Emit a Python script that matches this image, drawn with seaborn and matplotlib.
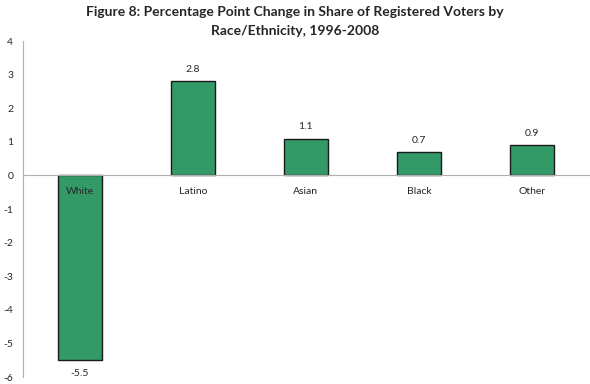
import matplotlib
matplotlib.use("Agg")
import matplotlib.pyplot as plt
import seaborn as sns
import pandas as pd

categories = ["White", "Latino", "Asian", "Black", "Other"]
values = [-5.5, 2.8, 1.1, 0.7, 0.9]
value_labels = ["-5.5", "2.8", "1.1", "0.7", "0.9"]
yticks = [-6, -5, -4, -3, -2, -1, 0, 1, 2, 3, 4]

sns.set_style("white")
plt.rcParams["font.family"] = ["Lato", "DejaVu Sans"]

df = pd.DataFrame({"cat": categories, "val": values})

fig = plt.figure(figsize=(5.9, 3.84), dpi=100)
ax = fig.add_axes([0.039, 0.018, 0.959, 0.875])
sns.barplot(data=df, x="cat", y="val", color="#339966", saturation=1,
            width=0.39, edgecolor="#1a1a1a", linewidth=1.0, ax=ax)

ax.set_ylim(-6, 4)
ax.set_xlim(-0.5, 4.5)
ax.set_yticks(yticks)
ax.set_yticklabels([str(t) for t in yticks], fontsize=7.5)
ax.set_xlabel("")
ax.set_ylabel("")

for s in ["top", "right"]:
    ax.spines[s].set_visible(False)
ax.spines["bottom"].set_position(("data", 0))
ax.spines["bottom"].set_color("#b0b0b0")
ax.spines["left"].set_color("#b0b0b0")
ax.spines["bottom"].set_linewidth(0.8)
ax.spines["left"].set_linewidth(0.8)

ax.set_xticks([0.5, 1.5, 2.5, 3.5, 4.5])
ax.set_xticklabels([])
ax.tick_params(axis="x", direction="out", length=3, color="#b0b0b0", width=0.8)
ax.tick_params(axis="y", direction="out", length=3, color="#b0b0b0", width=0.8, pad=4)

for i, (c, v, lab) in enumerate(zip(categories, values, value_labels)):
    ax.text(i, -0.48, c, ha="center", va="center", fontsize=7.5)
    if v >= 0:
        ax.text(i, v + 0.35, lab, ha="center", va="center", fontsize=7.5)
    else:
        ax.text(i, v - 0.4, lab, ha="center", va="center", fontsize=7.5)

fig.text(0.5, 0.968, "Figure 8: Percentage Point Change in Share of Registered Voters by",
         ha="center", va="center", fontsize=10, fontweight="bold")
fig.text(0.5, 0.92, "Race/Ethnicity, 1996-2008",
         ha="center", va="center", fontsize=10, fontweight="bold")

fig.savefig("out.png", dpi=100)
